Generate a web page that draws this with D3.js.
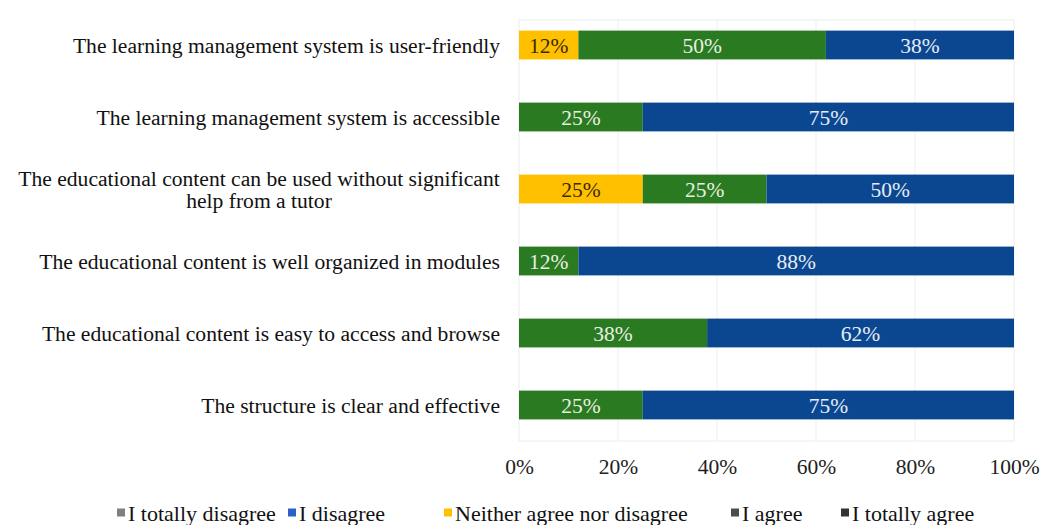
<!DOCTYPE html>
<html>
<head>
<meta charset="utf-8">
<script src="https://cdn.jsdelivr.net/npm/d3@7/dist/d3.min.js"></script>
<style>
  html, body { margin: 0; padding: 0; background: #fff; }
  svg text { font-family: "Liberation Serif", "Times New Roman", serif; }
</style>
</head>
<body>
<svg id="chart" width="1054" height="525"></svg>
<script>
// Survey statements (top to bottom)
const statements = [
  "The learning management system is user-friendly",
  "The learning management system is accessible",
  "The educational content can be used without significant|help from a tutor",
  "The educational content is well organized in modules",
  "The educational content is easy to access and browse",
  "The structure is clear and effective"
];

// Response categories, in stacking order
const responses = ["I totally disagree", "I disagree", "Neither agree nor disagree", "I agree", "I totally agree"];

// Percentages per response, aligned with statements
const totallyDisagree = [0, 0, 0, 0, 0, 0];
const disagree        = [0, 0, 0, 0, 0, 0];
const neither         = [12, 0, 25, 0, 0, 0];
const agree           = [50, 25, 25, 12, 38, 25];
const totallyAgree    = [38, 75, 50, 88, 62, 75];

const xTicks = [0, 20, 40, 60, 80, 100];

// Bar fills and legend swatch colours per response
const barColors    = ["#7f7f7f", "#2f6fd0", "#ffc000", "#2a7a22", "#0a4790"];
const swatchColors = ["#808080", "#2d63c8", "#ffc000", "#4d4d4d", "#333333"];
const labelColors  = ["#ffffff", "#ffffff", "#3a2a00", "#e8f0e0", "#e6ecf5"];

const rows = statements.map((s, i) => ({
  statement: s,
  "I totally disagree": totallyDisagree[i],
  "I disagree": disagree[i],
  "Neither agree nor disagree": neither[i],
  "I agree": agree[i],
  "I totally agree": totallyAgree[i]
}));

const svg = d3.select("#chart");
const plot = { left: 519, right: 1014, top: 9, bottom: 441 };

const x = d3.scaleLinear().domain([0, 100]).range([plot.left, plot.right]);
const y = d3.scaleBand().domain(statements).range([plot.top, plot.bottom])
  .paddingInner(0.6).paddingOuter(0.3);
const color = d3.scaleOrdinal().domain(responses).range(barColors);

// Light plot frame and vertical gridlines
svg.append("rect")
  .attr("x", plot.left).attr("y", 20)
  .attr("width", plot.right - plot.left).attr("height", 421)
  .attr("fill", "none").attr("stroke", "#ececec");

svg.append("g")
  .selectAll("line").data(xTicks.slice(1, -1)).join("line")
  .attr("x1", d => x(d)).attr("x2", d => x(d))
  .attr("y1", 20).attr("y2", 441)
  .attr("stroke", "#efefef");

// Stacked segments
const stack = d3.stack().keys(responses)(rows);

const layer = svg.append("g").selectAll("g").data(stack).join("g")
  .attr("fill", d => color(d.key));

layer.selectAll("rect").data(d => d.filter(p => p[1] - p[0] > 0)).join("rect")
  .attr("x", d => x(d[0]))
  .attr("y", d => y(d.data.statement))
  .attr("width", d => x(d[1]) - x(d[0]))
  .attr("height", y.bandwidth());

// Percentage labels inside segments
stack.forEach((s, k) => {
  svg.append("g").selectAll("text")
    .data(s.filter(p => p[1] - p[0] > 0)).join("text")
    .attr("x", d => x((d[0] + d[1]) / 2))
    .attr("y", d => y(d.data.statement) + y.bandwidth() / 2)
    .attr("dy", "0.35em")
    .attr("text-anchor", "middle")
    .attr("font-size", 21.5)
    .attr("fill", labelColors[k])
    .text(d => (d[1] - d[0]) + "%");
});

// Category labels on the left
const catG = svg.append("g");
statements.forEach(s => {
  const lines = s.split("|");
  const cy = y(s) + y.bandwidth() / 2;
  const t = catG.append("text")
    .attr("text-anchor", lines.length > 1 ? "middle" : "end")
    .attr("font-size", 21.6)
    .attr("fill", "#111");
  if (lines.length === 1) {
    t.attr("x", 500).attr("y", cy).attr("dy", "0.35em").text(s);
  } else {
    lines.forEach((ln, i) => {
      t.append("tspan")
        .attr("x", 259)
        .attr("y", cy + (i - (lines.length - 1) / 2) * 22)
        .attr("dy", "0.35em")
        .text(ln);
    });
  }
});

// Bottom axis (labels only)
const xAxis = d3.axisBottom(x).tickValues(xTicks).tickFormat(d => d + "%").tickSize(0).tickPadding(0);
const axG = svg.append("g").attr("transform", "translate(0,459)").call(xAxis);
axG.select(".domain").remove();
axG.selectAll("text")
  .attr("font-family", "Liberation Serif, serif")
  .attr("font-size", 21.5)
  .attr("fill", "#222");

// Legend
const legendX = [117, 288, 444, 731, 841];
const legend = svg.append("g").selectAll("g").data(responses).join("g")
  .attr("transform", (d, i) => `translate(${legendX[i]},513)`);
legend.append("rect")
  .attr("x", 0).attr("y", -4.5).attr("width", 8).attr("height", 8)
  .attr("fill", (d, i) => swatchColors[i]);
legend.append("text")
  .attr("x", 11).attr("dy", "0.35em")
  .attr("font-size", 22)
  .attr("fill", "#111")
  .text(d => d);
</script>
</body>
</html>
